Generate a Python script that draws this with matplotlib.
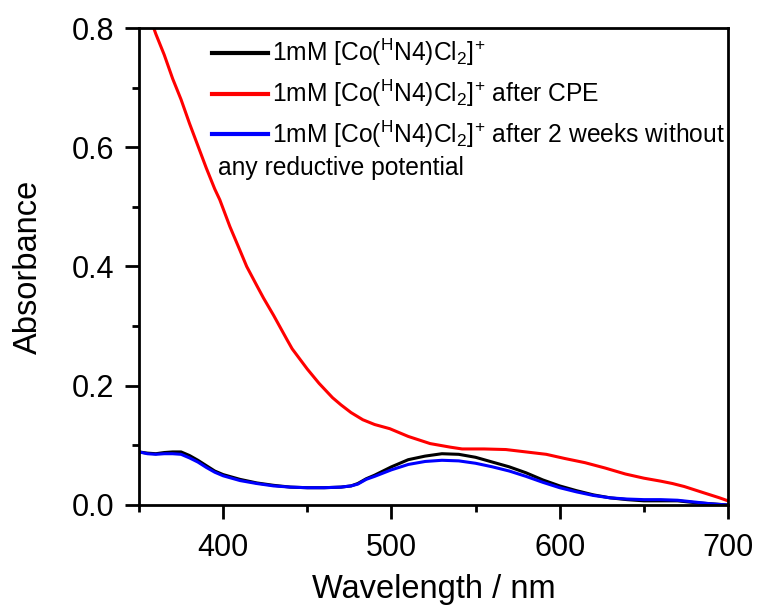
import matplotlib
matplotlib.use("Agg")
import matplotlib.pyplot as plt
from matplotlib.ticker import MultipleLocator

plt.rcParams['font.family'] = ['Liberation Sans', 'DejaVu Sans']
plt.rcParams['mathtext.fontset'] = 'custom'
plt.rcParams['mathtext.rm'] = 'Liberation Sans'
plt.rcParams['mathtext.it'] = 'Liberation Sans:italic'
plt.rcParams['mathtext.bf'] = 'Liberation Sans:bold'

wl_bk = [350, 355, 360, 365, 370, 375, 380, 385, 390, 395, 400, 410, 420, 430, 440, 450, 460, 470, 476, 480,
         485, 490, 500, 510, 520, 530, 540, 550, 560, 570, 580, 590, 600, 610, 620, 630, 640, 650, 660, 670,
         680, 690, 700]
abs_black = [0.089, 0.087, 0.086, 0.088, 0.089, 0.089, 0.083, 0.075, 0.066, 0.057, 0.051, 0.043, 0.037, 0.033,
             0.030, 0.029, 0.029, 0.030, 0.032, 0.036, 0.044, 0.050, 0.064, 0.076, 0.082, 0.086, 0.085, 0.080,
             0.072, 0.064, 0.054, 0.042, 0.032, 0.024, 0.017, 0.012, 0.009, 0.007, 0.007, 0.007, 0.004, 0.002,
             0.000]
abs_blue = [0.089, 0.086, 0.085, 0.086, 0.086, 0.085, 0.079, 0.072, 0.063, 0.055, 0.049, 0.041, 0.036, 0.032,
            0.030, 0.029, 0.029, 0.030, 0.032, 0.035, 0.043, 0.048, 0.059, 0.068, 0.073, 0.075, 0.074, 0.070,
            0.064, 0.057, 0.048, 0.038, 0.029, 0.022, 0.016, 0.012, 0.010, 0.009, 0.009, 0.008, 0.005, 0.002,
            0.000]

wl_red = [350, 355, 360, 365, 370, 375, 380, 386, 390, 395, 398, 404, 410, 414, 420, 424, 430, 438, 441, 450,
          457, 465, 470, 476, 483, 490, 499, 510, 523, 535, 542, 555, 568, 580, 592, 603, 615, 627, 639, 650,
          660, 667, 674, 685, 695, 700]
abs_red = [0.868, 0.83, 0.79, 0.755, 0.715, 0.68, 0.64, 0.595, 0.565, 0.53, 0.512, 0.467, 0.427, 0.40, 0.368,
           0.347, 0.318, 0.277, 0.262, 0.228, 0.204, 0.180, 0.168, 0.155, 0.143, 0.135, 0.128, 0.115, 0.103,
           0.097, 0.094, 0.094, 0.093, 0.089, 0.085, 0.078, 0.071, 0.062, 0.052, 0.045, 0.040, 0.036, 0.031,
           0.021, 0.012, 0.007]

complex_tex = r"1mM [Co($^{\mathrm{H}}$N4)Cl$_{2}$]$^{+}$"
labels = [complex_tex, complex_tex + " after CPE", complex_tex + " after 2 weeks without"]
extra_text = "any reductive potential"

fig = plt.figure(figsize=(7.59, 6.05), dpi=100)
ax = fig.add_axes([139/759, 1 - 505/605, (728-139)/759, (505-28)/605])

lw = 2.2
ax.plot(wl_bk, abs_black, color='black', lw=lw, label=labels[0])
ax.plot(wl_red, abs_red, color='#FF0000', lw=lw, label=labels[1])
ax.plot(wl_bk, abs_blue, color='#0000FF', lw=lw, label=labels[2])

ax.set_xlim(350, 700)
ax.set_ylim(0, 0.8)
ax.xaxis.set_major_locator(MultipleLocator(100))
ax.xaxis.set_minor_locator(MultipleLocator(50))
ax.yaxis.set_major_locator(MultipleLocator(0.2))
ax.yaxis.set_minor_locator(MultipleLocator(0.1))
ax.yaxis.set_major_formatter(plt.FuncFormatter(lambda v, p: f"{v:.1f}"))

for s in ax.spines.values():
    s.set_linewidth(2.0)
ax.tick_params(which='major', direction='out', length=10, width=2.0, labelsize=22)
ax.tick_params(axis='y', which='major', pad=8)
ax.tick_params(axis='x', which='major', pad=10)
ax.tick_params(which='minor', direction='out', length=5, width=2.0)
ax.tick_params(top=False, right=False, which='both')

ax.set_xlabel("Wavelength / nm", fontsize=23.5, labelpad=8)
ax.set_ylabel("Absorbance", fontsize=23.5, labelpad=20)

leg = ax.legend(loc='upper left', bbox_to_anchor=((211.7-139)/589, (505-37)/477), frameon=False,
                fontsize=17.7, handlelength=2.3, handletextpad=0.15, labelspacing=0.38,
                borderaxespad=0, borderpad=0)
for h in leg.get_lines():
    h.set_linewidth(3.0)

ax.text((218-139)/589, (505-168)/477, extra_text, transform=ax.transAxes, fontsize=17.7,
        ha='left', va='center')

fig.savefig("out.png", dpi=100)
